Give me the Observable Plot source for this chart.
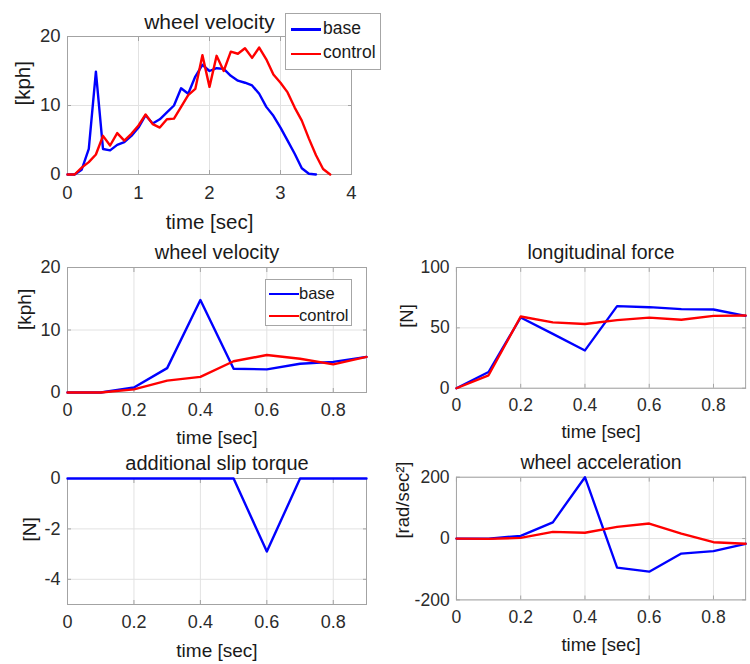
<!DOCTYPE html>
<html><head><meta charset="utf-8">
<script src="https://cdn.jsdelivr.net/npm/d3@7"></script>
<script src="https://cdn.jsdelivr.net/npm/@observablehq/plot@0.6"></script>
<style>
html,body{margin:0;padding:0;background:#fff;overflow:hidden;}
#fig{position:relative;width:750px;height:664px;overflow:hidden;font-family:"Liberation Sans",Arial,Helvetica,sans-serif;color:#262626;}
.panel{position:absolute;}
.legend{position:absolute;background:#fff;border:1px solid #a6a6a6;box-sizing:border-box;}
.legend .ln{position:absolute;height:2.5px;}
.legend .tx{position:absolute;line-height:1;white-space:nowrap;color:#1a1a1a;}
</style></head><body><div id="fig"></div><script>
// ---------- data ----------
const seriesNames = ["base", "control"];
const seriesColors = ["#0000ff", "#ff0000"];

// top panel: full run
const tTopBase = [0,0.1,0.2,0.3,0.4,0.5,0.6,0.7,0.8,0.9,1.0,1.1,1.2,1.3,1.4,1.5,1.6,1.7,1.8,1.9,2.0,2.1,2.2,2.3,2.4,2.5,2.6,2.7,2.8,2.9,3.0,3.1,3.2,3.3,3.4,3.5];
const vTopBase = [0,0,0.7,3.7,14.9,3.7,3.5,4.3,4.7,5.6,6.8,8.6,7.4,8.0,9.0,10.0,12.5,11.7,14.2,15.9,15.0,15.4,15.3,14.3,13.6,13.3,12.9,11.7,9.8,8.5,6.8,4.9,3.0,0.9,0.1,0];
const tTopControl = [0,0.1,0.2,0.3,0.4,0.5,0.6,0.7,0.8,0.9,1.0,1.1,1.2,1.3,1.4,1.5,1.6,1.7,1.8,1.9,2.0,2.1,2.2,2.3,2.4,2.5,2.6,2.7,2.8,2.9,3.0,3.1,3.2,3.3,3.4,3.5,3.6,3.7];
const vTopControl = [0,0,1.0,1.8,2.9,5.6,4.2,6.0,4.9,5.9,7.1,8.7,7.3,6.8,8.0,8.1,9.8,11.5,12.4,17.3,12.7,17.2,15.0,17.8,17.5,18.3,16.9,18.4,16.7,14.5,13.3,11.9,9.7,7.8,5.2,2.8,0.8,0];

// zoomed panels: first 0.9 s
const tZoom = [0,0.1,0.2,0.3,0.4,0.5,0.6,0.7,0.8,0.9];
const velBase = [0,0,0.8,3.9,14.8,3.8,3.7,4.6,4.9,5.7];
const velControl = [0,0,0.5,1.9,2.5,5.0,6.0,5.4,4.5,5.7];
const forceBase = [0,13.4,58.6,45.0,31.3,68.0,67.1,65.5,65.2,60.0];
const forceControl = [0,10.7,59.4,54.5,53.2,56.4,58.5,56.7,59.9,60.2];
const slipBase = [0,0,0,0,0,0,-2.9,0,0,0];
const accBase = [0,0,9,53,200,-95,-108,-49,-41,-17];
const accControl = [0,-1,2,22,19,38,49,16,-12,-17];

// tick labels
const xTicksTop = [0,1,2,3,4];
const xTicksZoom = [0,0.2,0.4,0.6,0.8];
const yTicksVel = [0,10,20];
const yTicksForce = [0,50,100];
const yTicksSlip = [-4,-2,0];
const yTicksAcc = [-200,0,200];

const titles = ["wheel velocity","wheel velocity","longitudinal force","additional slip torque","wheel acceleration"];
const xLabel = "time [sec]";
const yLabels = ["[kph]","[kph]","[N]","[N]","[rad/sec\u00B2]"];

// ---------- drawing ----------
const fig = document.getElementById("fig");
const FONT = '"Liberation Sans", Arial, Helvetica, sans-serif';
const fmt = d => String(d);

function toRows(ts, vs) { return ts.map((t, i) => ({t, v: vs[i]})); }

function panel(o) {
  const marks = [
    Plot.gridX(o.xTicks, {stroke: "#e2e2e2", strokeOpacity: 1}),
    Plot.gridY(o.yTicks, {stroke: "#e2e2e2", strokeOpacity: 1}),
    Plot.frame({stroke: "#a3a3a3"}),
    Plot.axisX(o.xTicks, {tickSize: 0, tickPadding: 11, tickFormat: fmt, label: null, fontSize: o.tickFont, fill: "#2b2b2b"}),
    Plot.axisY(o.yTicks, {tickSize: 0, tickPadding: 7, tickFormat: fmt, label: null, fontSize: o.tickFont, fill: "#2b2b2b"}),
    Plot.axisX(o.xTicks, {anchor: "bottom", tickSize: -4, tickFormat: () => "", label: null, stroke: "#a3a3a3"}),
    Plot.axisX(o.xTicks, {anchor: "top", tickSize: -4, tickFormat: () => "", label: null, stroke: "#a3a3a3"}),
    Plot.axisY(o.yTicks, {anchor: "left", tickSize: -4, tickFormat: () => "", label: null, stroke: "#a3a3a3"}),
    Plot.axisY(o.yTicks, {anchor: "right", tickSize: -4, tickFormat: () => "", label: null, stroke: "#a3a3a3"}),
    ...o.lines.map(l => Plot.line(l.data, {x: "t", y: "v", stroke: l.color, strokeWidth: 2.4, strokeLinejoin: "round", strokeLinecap: "round"})),
    Plot.text([o.title], {text: d => d, frameAnchor: "top", dy: o.titleDy, fontSize: o.titleFont, lineAnchor: "middle", fill: "#1a1a1a"}),
    Plot.text([xLabel], {text: d => d, frameAnchor: "bottom", dy: o.xlabelDy, fontSize: o.labelFont, lineAnchor: "middle", fill: "#1a1a1a"}),
    Plot.text([o.ylabel], {text: d => d, frameAnchor: "left", dx: o.ylabelDx, rotate: -90, fontSize: o.labelFont, lineAnchor: "middle", fill: "#1a1a1a"})
  ];
  const svg = Plot.plot({
    width: o.width, height: o.height,
    marginTop: o.m[0], marginRight: o.m[1], marginBottom: o.m[2], marginLeft: o.m[3],
    x: {domain: o.xDomain},
    y: {domain: o.yDomain},
    style: {fontFamily: FONT, background: "transparent", overflow: "visible"},
    marks
  });
  const div = document.createElement("div");
  div.className = "panel";
  div.style.left = o.left + "px";
  div.style.top = o.top + "px";
  div.appendChild(svg);
  fig.appendChild(div);
}

function legend(o) {
  const box = document.createElement("div");
  box.className = "legend";
  Object.assign(box.style, {left: o.left + "px", top: o.top + "px", width: o.width + "px", height: o.height + "px"});
  seriesNames.forEach((name, i) => {
    const cy = o.rows[i];
    const ln = document.createElement("div");
    ln.className = "ln";
    Object.assign(ln.style, {left: o.lineX + "px", top: (cy - 1.25) + "px", width: o.lineW + "px", background: seriesColors[i]});
    const tx = document.createElement("div");
    tx.className = "tx";
    tx.textContent = name;
    Object.assign(tx.style, {left: o.textX + "px", top: (cy - o.font * 0.55) + "px", fontSize: o.font + "px"});
    box.appendChild(ln); box.appendChild(tx);
  });
  fig.appendChild(box);
}

// top: full run
panel({left: 0, top: 0, width: 400, height: 230, m: [36, 49, 56, 67],
  xDomain: [0, 4], yDomain: [0, 20], xTicks: xTicksTop, yTicks: yTicksVel,
  lines: [{data: toRows(tTopBase, vTopBase), color: seriesColors[0]}, {data: toRows(tTopControl, vTopControl), color: seriesColors[1]}],
  title: titles[0], ylabel: yLabels[0], tickFont: 18.5, titleFont: 21, labelFont: 20.5, titleDy: -14, xlabelDy: 48, ylabelDx: -44});

// middle left
panel({left: 0, top: 230, width: 380, height: 200, m: [37, 14, 38, 67],
  xDomain: [0, 0.9], yDomain: [0, 20], xTicks: xTicksZoom, yTicks: yTicksVel,
  lines: [{data: toRows(tZoom, velBase), color: seriesColors[0]}, {data: toRows(tZoom, velControl), color: seriesColors[1]}],
  title: titles[1], ylabel: yLabels[1], tickFont: 18, titleFont: 20, labelFont: 19, titleDy: -15, xlabelDy: 45, ylabelDx: -43});

// middle right
panel({left: 380, top: 230, width: 380, height: 200, m: [38, 5, 38, 78],
  xDomain: [0, 0.9], yDomain: [0, 100], xTicks: xTicksZoom, yTicks: yTicksForce,
  lines: [{data: toRows(tZoom, forceBase), color: seriesColors[0]}, {data: toRows(tZoom, forceControl), color: seriesColors[1]}],
  title: titles[2], ylabel: yLabels[2], tickFont: 18, titleFont: 20, labelFont: 19, titleDy: -15, xlabelDy: 45, ylabelDx: -51});

// bottom left
panel({left: 0, top: 430, width: 380, height: 234, m: [48, 14, 60, 67],
  xDomain: [0, 0.9], yDomain: [-5, 0], xTicks: xTicksZoom, yTicks: yTicksSlip,
  lines: [{data: toRows(tZoom, slipBase), color: seriesColors[0]}],
  title: titles[3], ylabel: yLabels[3], tickFont: 18, titleFont: 20, labelFont: 19, titleDy: -15, xlabelDy: 46, ylabelDx: -38});

// bottom right
panel({left: 380, top: 430, width: 380, height: 234, m: [48, 5, 60, 78],
  xDomain: [0, 0.9], yDomain: [-200, 200], xTicks: xTicksZoom, yTicks: yTicksAcc,
  lines: [{data: toRows(tZoom, accBase), color: seriesColors[0]}, {data: toRows(tZoom, accControl), color: seriesColors[1]}],
  title: titles[4], ylabel: yLabels[4], tickFont: 18, titleFont: 20, labelFont: 19, titleDy: -15, xlabelDy: 46, ylabelDx: -55});

legend({left: 285, top: 13, width: 96, height: 57, rows: [15.5, 40], lineX: 5, lineW: 30, textX: 37, font: 17.5});
legend({left: 265, top: 279, width: 87, height: 47, rows: [14, 36], lineX: 3, lineW: 30, textX: 33, font: 16.5});
</script></body></html>
